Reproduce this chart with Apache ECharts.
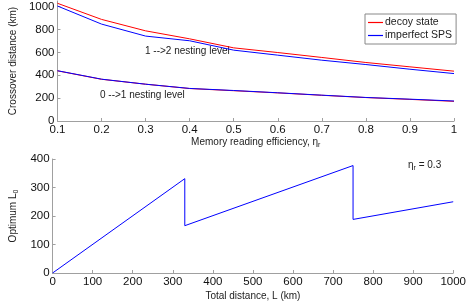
<!DOCTYPE html>
<html><head><meta charset="utf-8">
<script src="https://cdn.jsdelivr.net/npm/echarts@6/dist/echarts.min.js"></script>
<style>html,body{margin:0;padding:0;background:#fff}#c{width:469px;height:306px}</style>
</head><body><div id="c"></div>
<script>
const efficiency = [0.1,0.2,0.3,0.4,0.5,0.6,0.7,0.8,0.9,1.0];
const decoy12 = [1030,889,789,719,640,599,556,512,474,436];
const sps12 = [1006,848,743,702,620,576,532,494,453,415];
const decoy01 = [439,365,322,284,265,246,225,205,189,172];
const sps01 = [440,366,322,285,267,247,226,206,191,175];
const totalDist = [0,330,330,750,750,1000];
const optimumL0 = [0,331,166,377,188,250];
const seriesNames = ['decoy state','imperfect SPS'];

const F = 'Liberation Sans, Arial, sans-serif';
const axisGray = '#a0a0a0';
const chart = echarts.init(document.getElementById('c'));
const pairs = (xs, ys) => xs.map((x,i)=>[x, ys[i]]);
const lineBase = {type:'line', symbol:'none', lineStyle:{width:1}, animation:false};
chart.setOption({
  animation:false,
  textStyle:{fontFamily:F},
  grid:[
    {left:42, right:15, top:1, bottom:185},
    {left:42, right:15, top:159, bottom:33}
  ],
  xAxis:[
    {type:'value', gridIndex:0, min:0.1, max:1, interval:0.1,
     axisLine:{lineStyle:{color:axisGray}}, axisTick:{inside:true, length:3, lineStyle:{color:axisGray}},
     splitLine:{show:false},
     axisLabel:{color:'#111', fontSize:11.5, margin:3, formatter:v=>String(+v.toFixed(1))},
     name:'Memory reading efficiency, {s|η}{sub|r}', nameLocation:'middle', nameGap:14,
     nameTextStyle:{color:'#222', fontSize:10, rich:{s:{fontSize:10,color:'#222'}, sub:{fontSize:7, verticalAlign:'bottom', padding:[6,0,0,0], color:'#222'}}}},
    {type:'value', gridIndex:1, min:0, max:1000, interval:100,
     axisLine:{lineStyle:{color:axisGray}}, axisTick:{inside:true, length:3, lineStyle:{color:axisGray}},
     splitLine:{show:false},
     axisLabel:{color:'#111', fontSize:11.5, margin:3, formatter:v=>String(v)},
     name:'Total distance, L (km)', nameLocation:'middle', nameGap:18,
     nameTextStyle:{color:'#222', fontSize:10}}
  ],
  yAxis:[
    {type:'value', gridIndex:0, min:0, max:1050, interval:200,
     axisLine:{show:true, lineStyle:{color:axisGray}}, axisTick:{show:true, inside:true, length:3, lineStyle:{color:axisGray}},
     splitLine:{show:false},
     axisLabel:{color:'#111', fontSize:11.5, margin:3, showMaxLabel:false, formatter:v=>String(v)},
     name:'Crossover distance (km)', nameLocation:'middle', nameGap:30,
     nameTextStyle:{color:'#222', fontSize:10}},
    {type:'value', gridIndex:1, min:0, max:400, interval:100,
     axisLine:{show:true, lineStyle:{color:axisGray}}, axisTick:{show:true, inside:true, length:3, lineStyle:{color:axisGray}},
     splitLine:{show:false},
     axisLabel:{color:'#111', fontSize:11.5, margin:3, formatter:v=>String(v)},
     name:'Optimum {l|L}{sub|0}', nameLocation:'middle', nameGap:30,
     nameTextStyle:{color:'#222', fontSize:10, rich:{l:{fontSize:10,color:'#222'}, sub:{fontSize:7, color:'#222', verticalAlign:'bottom', padding:[6,0,0,0]}}}}
  ],
  legend:{
    data:seriesNames, orient:'vertical', left:365, top:14, padding:[3,4,3,3],
    borderColor:'#888', borderWidth:1, backgroundColor:'#fff', borderRadius:0,
    icon:'rect', itemWidth:15, itemHeight:1.2, itemGap:2,
    textStyle:{fontSize:10.5, color:'#222', padding:[0,0,0,-3]}
  },
  graphic:[
    {type:'text', left:145, top:46, style:{text:'1 -->2 nesting level', font:'10px '+F, fill:'#222'}},
    {type:'text', left:100, top:90, style:{text:'0 -->1 nesting level', font:'10px '+F, fill:'#222'}},
    {type:'text', left:408, top:160, style:{text:'{a|η}{b|r}{a| = 0.3}', font:'10px '+F, fill:'#222',
      rich:{a:{fontSize:10, fill:'#222'}, b:{fontSize:7, fill:'#222', verticalAlign:'bottom', padding:[6,0,0,0]}}}}
  ],
  series:[
    Object.assign({}, lineBase, {name:seriesNames[0], xAxisIndex:0, yAxisIndex:0, color:'#ff0000', data:pairs(efficiency, decoy12), z:3}),
    Object.assign({}, lineBase, {name:seriesNames[1], xAxisIndex:0, yAxisIndex:0, color:'#0000ff', data:pairs(efficiency, sps12), z:3}),
    Object.assign({}, lineBase, {name:seriesNames[0], xAxisIndex:0, yAxisIndex:0, color:'#ff0000', data:pairs(efficiency, decoy01), z:3}),
    Object.assign({}, lineBase, {name:seriesNames[1], xAxisIndex:0, yAxisIndex:0, color:'#0000ff', data:pairs(efficiency, sps01), z:4}),
    Object.assign({}, lineBase, {name:'L0', xAxisIndex:1, yAxisIndex:1, color:'#0000ff', data:pairs(totalDist, optimumL0)})
  ]
});
</script></body></html>
